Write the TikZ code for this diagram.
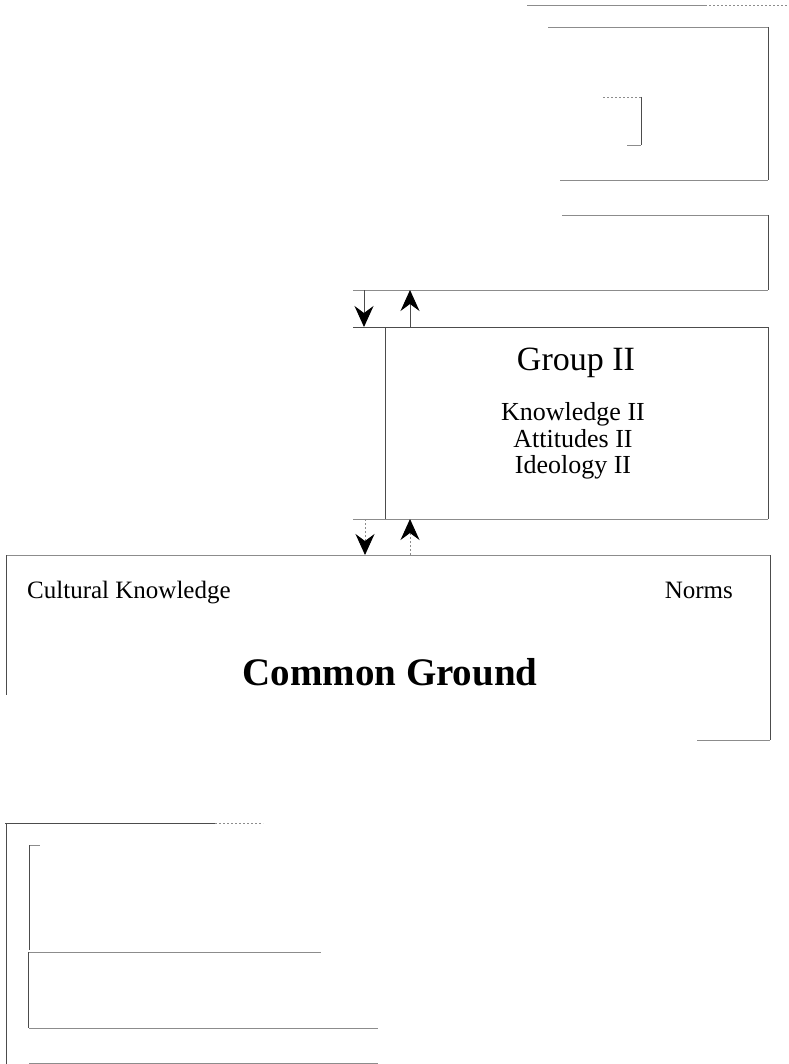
\documentclass[tikz,border=0pt]{standalone}
\usepackage{fontspec}
\setmainfont{Liberation Serif}
\usetikzlibrary{arrows.meta}
\begin{document}
\begin{tikzpicture}[x=1pt,y=-1pt,
  ln/.style={draw=black!70,line width=1pt},
  faint/.style={draw=black!45,line width=0.9pt},
  dotln/.style={draw=black!45,line width=0.9pt,dash pattern=on 2pt off 2pt},
  tip/.style={-{Stealth[length=21pt,width=19pt,inset=7pt,color=black]}},
  arr/.style={ln,tip},
  arrdot/.style={dotln,tip},
  lbl/.style={inner sep=0pt,anchor=base,text=black},
  txt/.style={lbl,font=\fontsize{25}{30}\selectfont},
  sub/.style={lbl,font=\fontsize{26}{30}\selectfont},
  head/.style={lbl,font=\fontsize{34}{40}\selectfont},
  big/.style={lbl,font=\bfseries\fontsize{39}{46}\selectfont}]
\useasboundingbox (0,0) rectangle (788,1064);
\fill[white] (0,0) rectangle (788,1064);

% top fragments
\draw[faint] (527,5) -- (705,5);
\draw[dotln] (705,5) -- (788,5);
\draw[faint] (548,27) -- (768,27);
\draw[ln] (768,27) -- (768,180);
\draw[faint] (560,180) -- (768,180);
\draw[dotln] (603,97) -- (641,97);
\draw[ln] (641,97) -- (641,145);
\draw[faint] (627,145) -- (641,145);

% second box
\draw[faint] (562,215) -- (768,215);
\draw[ln] (768,215) -- (768,290);
\draw[faint] (353,290) -- (768,290);

% Group II box
\draw[ln] (353,327) -- (768,327);
\draw[ln] (385,327) -- (385,519);
\draw[ln] (768,327) -- (768,519);
\draw[faint] (353,519) -- (768,519);

% arrow end points
\coordinate (a1s) at (364,290);
\coordinate (a1e) at (364,327);
\coordinate (a2s) at (410,327);
\coordinate (a2e) at (410,290);
\coordinate (a3s) at (365,519);
\coordinate (a3e) at (365,555);
\coordinate (a4s) at (410,555);
\coordinate (a4e) at (410,519);
\draw[arr] (a1s) -- (a1e);
\draw[arr] (a2s) -- (a2e);
\draw[arrdot] (a3s) -- (a3e);
\draw[arrdot] (a4s) -- (a4e);

\node[head] (g2) at (576,370) {Group II};
\node[sub] (k2) at (573,420) {Knowledge II};
\node[sub] (at2) at (573,447) {Attitudes II};
\node[sub] (id2) at (573,473) {Ideology II};

% Common Ground box
\draw[faint] (6,555) -- (770,555);
\draw[ln] (6,555) -- (6,695);
\draw[ln] (770,555) -- (770,740);
\draw[faint] (697,740) -- (770,740);
\node[txt,anchor=base west] (ck) at (27,598) {Cultural Knowledge};
\node[txt,anchor=base east] (nm) at (733,598) {Norms};
\node[big] (cg) at (390,685) {Common Ground};

% bottom fragments
\draw[ln] (5,823) -- (215,823);
\draw[dotln] (215,823) -- (263,823);
\draw[ln] (6,823) -- (6,1064);
\draw[faint] (29,845) -- (40,845);
\draw[ln] (29,845) -- (29,950);
\draw[faint] (29,952) -- (321,952);
\draw[ln] (28,952) -- (28,1028);
\draw[faint] (29,1028) -- (378,1028);
\draw[faint] (29,1063) -- (378,1063);
\end{tikzpicture}
\end{document}
